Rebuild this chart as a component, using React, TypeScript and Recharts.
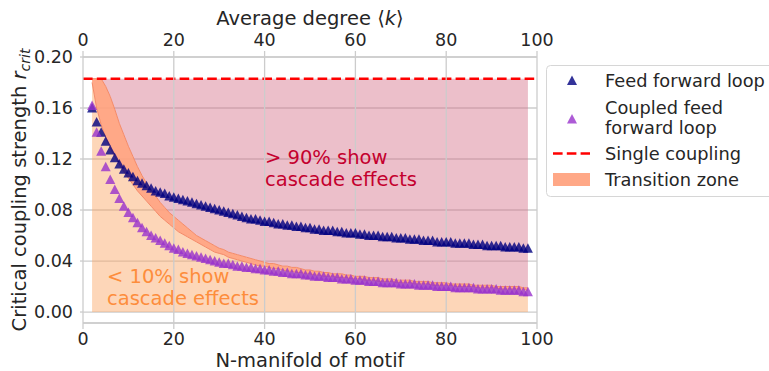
import React from 'react'
import {
  ComposedChart,
  Area,
  Scatter,
  XAxis,
  YAxis,
  CartesianGrid,
  ReferenceLine,
  Label,
} from 'recharts'

const FONT = 'DejaVu Sans, sans-serif'
const TEXT = '#262626'

// N-manifold of motif, 2..98
const N_MANIFOLD = Array.from({ length: 97 }, (_, i) => i + 2)

const SINGLE_COUPLING = 0.183

// Feed forward loop, r_crit
const FFL = [
  0.160, 0.149, 0.141, 0.134, 0.127, 0.121, 0.116, 0.112, 0.109, 0.106,
  0.103, 0.101, 0.099, 0.097, 0.095, 0.094, 0.093, 0.091, 0.090, 0.089,
  0.088, 0.087, 0.086, 0.085, 0.084, 0.083, 0.082, 0.081, 0.080, 0.079,
  0.078, 0.077, 0.076, 0.075, 0.074, 0.073, 0.073, 0.072, 0.071, 0.071,
  0.070, 0.069, 0.069, 0.068, 0.068, 0.067, 0.067, 0.066, 0.066, 0.065,
  0.065, 0.064, 0.064, 0.064, 0.063, 0.063, 0.062, 0.062, 0.062, 0.061,
  0.061, 0.060, 0.060, 0.060, 0.059, 0.059, 0.059, 0.058, 0.058, 0.058,
  0.057, 0.057, 0.057, 0.056, 0.056, 0.056, 0.055, 0.055, 0.055, 0.055,
  0.054, 0.054, 0.054, 0.054, 0.053, 0.053, 0.053, 0.052, 0.052, 0.052,
  0.052, 0.051, 0.051, 0.051, 0.051, 0.050, 0.050,
]

// Coupled feed forward loop, r_crit
const CFFL = [
  0.162, 0.141, 0.126, 0.114, 0.104, 0.096, 0.089, 0.083, 0.078, 0.074,
  0.070, 0.066, 0.063, 0.060, 0.058, 0.056, 0.054, 0.052, 0.050, 0.049,
  0.047, 0.046, 0.045, 0.044, 0.043, 0.042, 0.041, 0.040, 0.039, 0.038,
  0.038, 0.037, 0.036, 0.036, 0.035, 0.035, 0.034, 0.034, 0.033, 0.033,
  0.032, 0.032, 0.031, 0.031, 0.030, 0.030, 0.030, 0.029, 0.029, 0.028,
  0.028, 0.028, 0.027, 0.027, 0.027, 0.026, 0.026, 0.026, 0.025, 0.025,
  0.025, 0.024, 0.024, 0.024, 0.023, 0.023, 0.023, 0.023, 0.022, 0.022,
  0.022, 0.022, 0.021, 0.021, 0.021, 0.021, 0.020, 0.020, 0.020, 0.020,
  0.019, 0.019, 0.019, 0.019, 0.019, 0.018, 0.018, 0.018, 0.018, 0.018,
  0.017, 0.017, 0.017, 0.017, 0.017, 0.016, 0.016,
]

// transition zone, lower edge (<10% show cascades below it)
const TRANSITION_LOW = [
  0.180, 0.160, 0.147, 0.137, 0.129, 0.122, 0.116, 0.110, 0.105, 0.100,
  0.095, 0.091, 0.087, 0.083, 0.079, 0.075, 0.072, 0.069, 0.066, 0.063,
  0.061, 0.059, 0.057, 0.055, 0.053, 0.051, 0.049, 0.047, 0.046, 0.045,
  0.043, 0.042, 0.041, 0.040, 0.039, 0.038, 0.037, 0.036, 0.036, 0.035,
  0.034, 0.034, 0.033, 0.032, 0.032, 0.031, 0.031, 0.030, 0.030, 0.029,
  0.029, 0.028, 0.028, 0.028, 0.027, 0.027, 0.027, 0.026, 0.026, 0.026,
  0.025, 0.025, 0.025, 0.024, 0.024, 0.024, 0.024, 0.023, 0.023, 0.023,
  0.023, 0.022, 0.022, 0.022, 0.022, 0.021, 0.021, 0.021, 0.021, 0.021,
  0.020, 0.020, 0.020, 0.020, 0.020, 0.019, 0.019, 0.019, 0.019, 0.019,
  0.018, 0.018, 0.018, 0.018, 0.018, 0.018, 0.017,
]

// transition zone, upper edge (>90% show cascades above it)
const TRANSITION_HIGH = [
  0.183, 0.183, 0.183, 0.177, 0.169, 0.159, 0.148, 0.139, 0.130, 0.122,
  0.114, 0.107, 0.101, 0.096, 0.091, 0.086, 0.082, 0.078, 0.075, 0.072,
  0.069, 0.066, 0.063, 0.060, 0.058, 0.056, 0.054, 0.052, 0.050, 0.049,
  0.047, 0.046, 0.045, 0.044, 0.043, 0.042, 0.041, 0.040, 0.039, 0.038,
  0.038, 0.037, 0.036, 0.036, 0.035, 0.035, 0.034, 0.033, 0.033, 0.032,
  0.032, 0.031, 0.031, 0.030, 0.030, 0.030, 0.029, 0.029, 0.028, 0.028,
  0.028, 0.027, 0.027, 0.027, 0.026, 0.026, 0.026, 0.025, 0.025, 0.025,
  0.025, 0.024, 0.024, 0.024, 0.024, 0.023, 0.023, 0.023, 0.023, 0.022,
  0.022, 0.022, 0.022, 0.022, 0.021, 0.021, 0.021, 0.021, 0.021, 0.020,
  0.020, 0.020, 0.020, 0.020, 0.020, 0.019, 0.019,
]

const X_TICKS = [0, 20, 40, 60, 80, 100]
const Y_TICKS = [0, 0.04, 0.08, 0.12, 0.16, 0.2]

const NAVY = '#000080'
const ORCHID = '#9932cc'

function Triangle(props: any) {
  const { cx, cy, fill } = props
  if (cx == null || cy == null) return null
  return (
    <polygon
      points={`${cx},${cy - 5} ${cx - 5},${cy + 4.5} ${cx + 5},${cy + 4.5}`}
      fill={fill}
      fillOpacity={0.8}
    />
  )
}

const tickStyle = { fill: TEXT, fontSize: 17.5, fontFamily: FONT }

function ChartLegend() {
  const textProps = { fontSize: 17.8, fontFamily: FONT, fill: TEXT }
  return (
    <svg
      width={223}
      height={133}
      style={{ position: 'absolute', left: 546, top: 65 }}
    >
      <rect x={0.5} y={0.5} width={260} height={131} rx={4} fill="#fff" fillOpacity={0.8} stroke="#d6d6d6" />
      <Triangle cx={26} cy={15.5} fill={NAVY} />
      <text x={59} y={21.5} {...textProps}>Feed forward loop</text>
      <Triangle cx={26} cy={54} fill={ORCHID} />
      <text x={59} y={49} {...textProps}>Coupled feed</text>
      <text x={59} y={69} {...textProps}>forward loop</text>
      <line x1={7} x2={44} y1={88.5} y2={88.5} stroke="#ff0000" strokeWidth={2.6} strokeDasharray="9.6 4.2" />
      <text x={59} y={94.5} {...textProps}>Single coupling</text>
      <rect x={7} y={108} width={37} height={13} fill="#ff9f7a" fillOpacity={0.9} />
      <text x={59} y={121} {...textProps}>Transition zone</text>
    </svg>
  )
}

// region annotations, drawn above the filled zones
function Annotations() {
  const upper = { fontSize: 19.5, fontFamily: FONT, fill: '#c4002e' }
  const lower = { fontSize: 19.5, fontFamily: FONT, fill: '#fd8d3c' }
  return (
    <svg
      width={769}
      height={371}
      style={{ position: 'absolute', left: 0, top: 0, pointerEvents: 'none' }}
    >
      <text x={265} y={164} {...upper}>&gt; 90% show</text>
      <text x={265} y={186} {...upper}>cascade effects</text>
      <text x={107} y={283} {...lower}>&lt; 10% show</text>
      <text x={107} y={305} {...lower}>cascade effects</text>
    </svg>
  )
}

export default function App() {
  const data = N_MANIFOLD.map((x, i) => ({
    x,
    ffl: FFL[i],
    cffl: CFFL[i],
    above: [TRANSITION_HIGH[i], SINGLE_COUPLING],
    band: [TRANSITION_LOW[i], TRANSITION_HIGH[i]],
    below: [0, TRANSITION_LOW[i]],
  }))

  return (
    <div
      style={{
        position: 'absolute',
        left: 0,
        top: 0,
        width: 769,
        height: 371,
        overflow: 'hidden',
        background: '#fff',
        fontFamily: FONT,
      }}
    >
      <ComposedChart
        width={769}
        height={371}
        data={data}
        margin={{ top: 0, right: 232, bottom: 0, left: 0 }}
      >
        <CartesianGrid vertical={false} stroke="#cccccc" strokeWidth={1.3} xAxisId="bottom" />
        <XAxis
          xAxisId="bottom"
          dataKey="x"
          type="number"
          domain={[0, 100]}
          ticks={X_TICKS}
          height={48}
          tick={tickStyle}
          tickSize={6}
          tickMargin={4}
          axisLine={{ stroke: '#cccccc', strokeWidth: 1.3 }}
          tickLine={{ stroke: '#cccccc', strokeWidth: 1.3 }}
        >
          <Label
            content={({ viewBox }: any) => (
              <text
                x={viewBox.x + viewBox.width / 2}
                y={367}
                textAnchor="middle"
                fontSize={19.5}
                fontFamily={FONT}
                fill={TEXT}
              >
                N-manifold of motif
              </text>
            )}
          />
        </XAxis>
        <XAxis
          xAxisId="top"
          orientation="top"
          dataKey="x"
          type="number"
          domain={[0, 100]}
          ticks={X_TICKS}
          height={57}
          tick={tickStyle}
          tickSize={6}
          tickMargin={5}
          axisLine={{ stroke: '#cccccc', strokeWidth: 1.3 }}
          tickLine={{ stroke: '#cccccc', strokeWidth: 1.3 }}
        >
          <Label
            content={({ viewBox }: any) => (
              <text
                x={viewBox.x + viewBox.width / 2}
                y={25}
                textAnchor="middle"
                fontSize={19.5}
                fontFamily={FONT}
                fill={TEXT}
              >
                Average degree ⟨<tspan fontStyle="italic">k</tspan>⟩
              </text>
            )}
          />
        </XAxis>
        <YAxis
          type="number"
          domain={[-0.0086, 0.2]}
          ticks={Y_TICKS}
          allowDataOverflow
          width={83}
          tick={tickStyle}
          tickSize={3}
          tickMargin={7}
          tickFormatter={(v: number) => v.toFixed(2)}
          axisLine={{ stroke: '#cccccc', strokeWidth: 1.3 }}
          tickLine={{ stroke: '#cccccc', strokeWidth: 1.3 }}
        >
          <Label
            content={({ viewBox }: any) => {
              const cy = viewBox.y + viewBox.height / 2
              return (
                <text
                  x={26}
                  y={cy}
                  transform={`rotate(-90 26 ${cy})`}
                  textAnchor="middle"
                  fontSize={19.5}
                  fontFamily={FONT}
                  fill={TEXT}
                >
                  Critical coupling strength <tspan fontStyle="italic">r</tspan>
                  <tspan fontStyle="italic" fontSize={14} dy={4}>crit</tspan>
                </text>
              )
            }}
          />
        </YAxis>

        <Area
          xAxisId="bottom"
          dataKey="above"
          type="linear"
          stroke="none"
          fill="#d5718a"
          fillOpacity={0.45}
          isAnimationActive={false}
          activeDot={false}
        />
        <Area
          xAxisId="bottom"
          dataKey="below"
          type="linear"
          stroke="none"
          fill="#fba462"
          fillOpacity={0.45}
          isAnimationActive={false}
          activeDot={false}
        />
        <Area
          xAxisId="bottom"
          dataKey="band"
          type="linear"
          stroke="#f48a68"
          strokeWidth={1}
          fill="#ff9f7a"
          fillOpacity={0.9}
          isAnimationActive={false}
          activeDot={false}
        />

        <ReferenceLine
          xAxisId="bottom"
          y={SINGLE_COUPLING}
          stroke="#ff0000"
          strokeWidth={2.6}
          strokeDasharray="9.6 4.2"
        />

        <Scatter
          xAxisId="bottom"
          dataKey="ffl"
          fill={NAVY}
          shape={(p: any) => <Triangle {...p} fill={NAVY} />}
          isAnimationActive={false}
        />
        <Scatter
          xAxisId="bottom"
          dataKey="cffl"
          fill={ORCHID}
          shape={(p: any) => <Triangle {...p} fill={ORCHID} />}
          isAnimationActive={false}
        />

        {X_TICKS.slice(1, -1).map((t) => (
          <ReferenceLine key={t} xAxisId="bottom" x={t} stroke="#cccccc" strokeWidth={1.3} />
        ))}
        <ReferenceLine xAxisId="bottom" x={100} stroke="#cccccc" strokeWidth={1.3} />
      </ComposedChart>
      <Annotations />
      <ChartLegend />
    </div>
  )
}
